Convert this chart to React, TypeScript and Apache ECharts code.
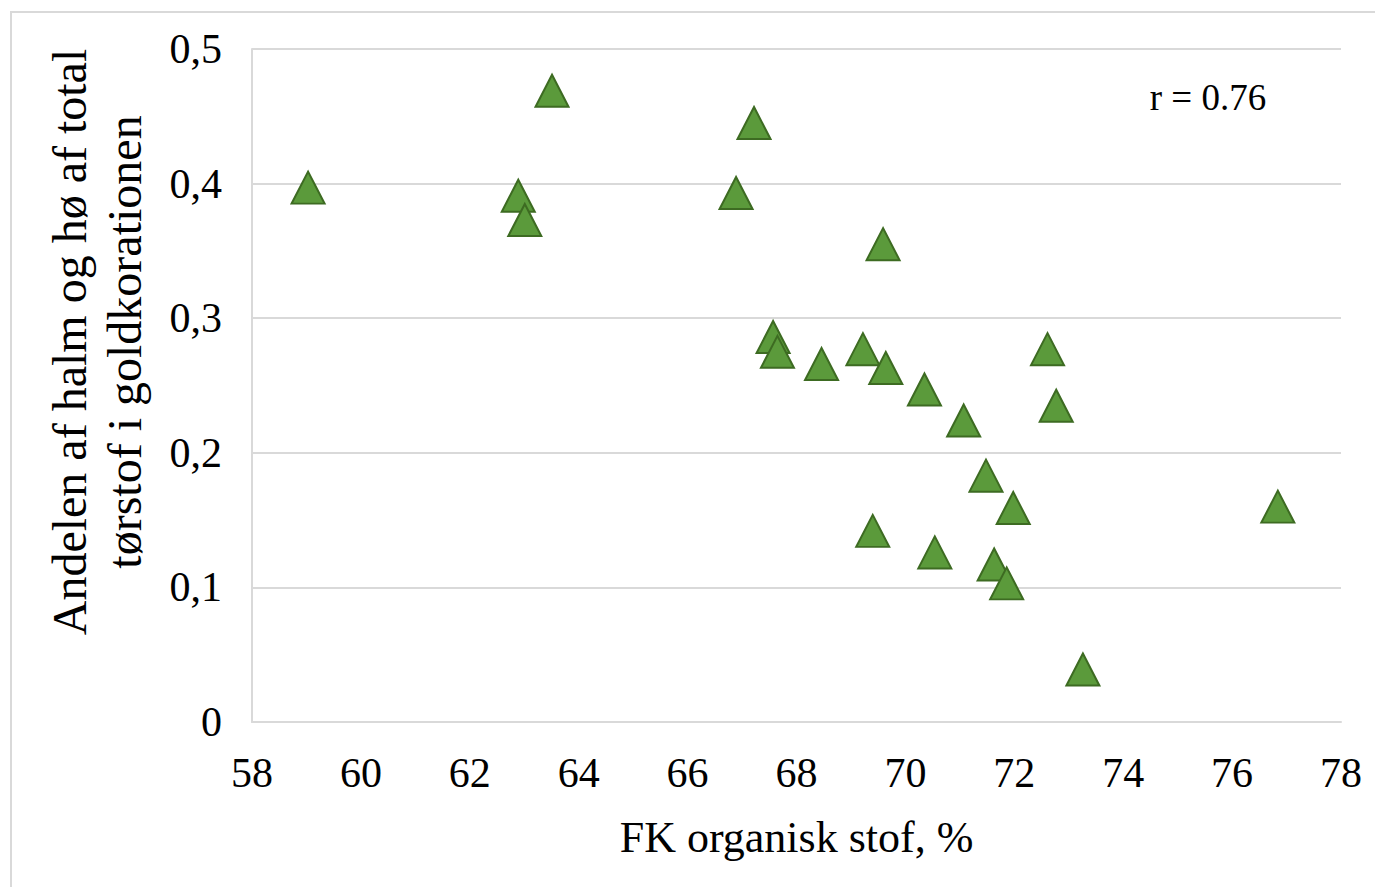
import React, { useEffect, useRef } from "react";
import * as echarts from "echarts";

const xValues = [59.03, 63.51, 62.89, 63.01, 67.22, 66.89, 69.59, 67.57, 67.65, 68.46, 69.22, 69.64, 70.35, 71.07, 72.61, 72.77, 71.48, 71.98, 69.40, 70.54, 71.63, 71.86, 73.26, 76.84];
const yValues = [0.397, 0.469, 0.391, 0.373, 0.445, 0.393, 0.355, 0.286, 0.275, 0.266, 0.277, 0.263, 0.247, 0.224, 0.277, 0.235, 0.183, 0.159, 0.142, 0.126, 0.117, 0.103, 0.039, 0.160];
const xTitle = "FK organisk stof, %";
const yTitle = "Andelen af halm og hø af total\ntørstof i goldkorationen";
const annotation = "r = 0.76";

const FONT = "'Liberation Serif', 'Times New Roman', serif";

export default function App() {
  const ref = useRef<HTMLDivElement>(null);
  useEffect(() => {
    if (!ref.current) return;
    const chart = echarts.init(ref.current, null, { renderer: "svg" });
    const data = xValues.map((x, i) => [x, yValues[i]]);
    chart.setOption({
      animation: false,
      backgroundColor: "#ffffff",
      grid: { left: 252, top: 49, right: 34, bottom: 165, containLabel: false },
      xAxis: {
        type: "value",
        min: 58,
        max: 78,
        interval: 2,
        name: xTitle,
        nameLocation: "middle",
        nameGap: 93,
        nameTextStyle: { fontFamily: FONT, fontSize: 44, color: "#000" },
        axisLine: { show: true, lineStyle: { color: "#d9d9d9", width: 2 } },
        axisTick: { show: false },
        splitLine: { show: false },
        axisLabel: { fontFamily: FONT, fontSize: 42, color: "#000", margin: 30 },
      },
      yAxis: {
        type: "value",
        min: 0,
        max: 0.5,
        interval: 0.1,
        axisLine: { show: true, lineStyle: { color: "#d9d9d9", width: 2 } },
        axisTick: { show: false },
        splitLine: { show: true, lineStyle: { color: "#d9d9d9", width: 2 } },
        axisLabel: {
          fontFamily: FONT,
          fontSize: 42,
          color: "#000",
          margin: 30,
          formatter: (v: number) => (v === 0 ? "0" : v.toFixed(1).replace(".", ",")),
        },
      },
      graphic: [
        {
          type: "rect",
          shape: { x: 11, y: 12, width: 1500, height: 1000 },
          style: { fill: "none", stroke: "#d9d9d9", lineWidth: 2 },
          silent: true,
          z: -1,
        },
        {
          type: "text",
          x: 97,
          y: 342,
          rotation: Math.PI / 2,
          style: {
            text: yTitle,
            fontFamily: FONT,
            fontSize: 48,
            fill: "#000",
            align: "center",
            verticalAlign: "middle",
            lineHeight: 55,
          },
        },
        {
          type: "text",
          x: 1208,
          y: 97,
          style: {
            text: annotation,
            fontFamily: FONT,
            fontSize: 37,
            fill: "#000",
            align: "center",
            verticalAlign: "middle",
          },
        },
      ],
      series: [
        {
          type: "scatter",
          data,
          symbol: "triangle",
          symbolSize: [33, 32],
          itemStyle: { color: "#5b9a3b", borderColor: "#3d6b22", borderWidth: 2, opacity: 1 },
        },
      ],
    });
    return () => chart.dispose();
  }, []);
  return (
    <div
      ref={ref}
      style={{ position: "fixed", left: 0, top: 0, width: 1375, height: 887 }}
    />
  );
}
